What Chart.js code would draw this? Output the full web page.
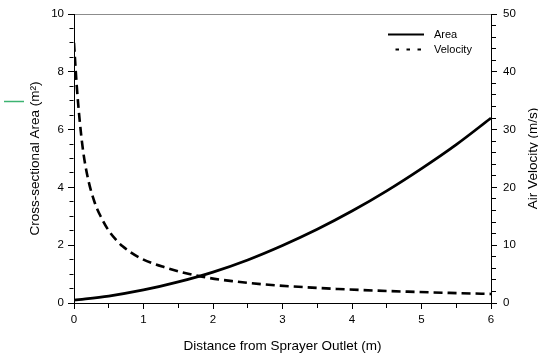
<!DOCTYPE html>
<html>
<head>
<meta charset="utf-8">
<script src="https://cdn.jsdelivr.net/npm/chart.js@4/dist/chart.umd.min.js"></script>
<style>
	html, body { margin: 0; padding: 0; background: #fff; }
	canvas { display: block; }
</style>
</head>
<body>
<canvas id="chart" width="538" height="356"></canvas>
<script>
'use strict';

// values
var areaX = [0, 0.5, 1, 1.5, 2, 2.5, 3, 3.5, 4, 4.5, 5, 5.5, 6];
var areaY = [0.1, 0.24, 0.45, 0.73, 1.07, 1.49, 1.99, 2.55, 3.18, 3.88, 4.65, 5.48, 6.4];

var velocityX = [0, 0.04, 0.08, 0.13, 0.2, 0.3, 0.4, 0.5, 0.6, 0.7, 0.95, 1.3, 1.8, 2.3, 2.8, 3.3, 3.8, 4.3, 4.8, 5.4, 6];
var velocityY = [45, 37.5, 31.8, 26.4, 21.6, 17.3, 14.6, 12.5, 11.0, 9.8, 7.8, 6.2, 4.65, 3.75, 3.15, 2.75, 2.42, 2.17, 1.96, 1.75, 1.57];

var seriesNames = ['Area', 'Velocity'];
var xTitle = 'Distance from Sprayer Outlet (m)';
var yTitle = 'Cross-sectional Area (m\u00B2)';
var y1Title = 'Air Velocity (m/s)';

var FONT = '"Liberation Sans", Arial, sans-serif';

function points(xs, ys) {
	var out = [];
	for (var i = 0; i < xs.length; i++) {
		out.push({x: xs[i], y: ys[i]});
	}
	return out;
}

function isMultiple(v, step) {
	return Math.abs(v / step - Math.round(v / step)) < 1e-6;
}

// minor ticks are drawn shorter by dashing the tick line
function minorDash(step) {
	return function(ctx) {
		return ctx.tick && isMultiple(ctx.tick.value, step) ? [] : [4, 100];
	};
}

function fixedSize(prop, size) {
	return function(scale) {
		scale[prop] = size;
	};
}

var overlay = {
	id: 'overlay',
	afterDraw: function(chart) {
		var ctx = chart.ctx;
		var area = chart.chartArea;
		var sets = chart.data.datasets;
		var x0 = area.right - 103;
		var x1 = area.right - 67;
		var rows = [area.top + 20.5, area.top + 35.5];
		var dashes = [[], [3.5, 7.5]];

		ctx.save();
		ctx.font = '11px ' + FONT;
		ctx.textBaseline = 'middle';
		ctx.textAlign = 'left';
		for (var i = 0; i < sets.length; i++) {
			ctx.beginPath();
			ctx.setLineDash(dashes[i]);
			ctx.lineDashOffset = i === 1 ? -7.5 : 0;
			ctx.strokeStyle = sets[i].borderColor;
			ctx.lineWidth = 2;
			ctx.moveTo(x0, rows[i]);
			ctx.lineTo(x1, rows[i]);
			ctx.stroke();
			ctx.fillStyle = '#000';
			ctx.fillText(sets[i].label, area.right - 57, rows[i]);
		}
		ctx.setLineDash([]);

		// right axis title reads bottom to top in the reference
		ctx.translate(chart.width - 5, (area.top + area.bottom) / 2);
		ctx.rotate(-Math.PI / 2);
		ctx.font = '13.5px ' + FONT;
		ctx.textAlign = 'center';
		ctx.fillText(y1Title, 0, 0);
		ctx.restore();

		// stray green mark left of the axis title
		ctx.save();
		ctx.strokeStyle = '#3cb371';
		ctx.lineWidth = 1.5;
		ctx.beginPath();
		ctx.moveTo(4, 101.5);
		ctx.lineTo(24, 101.5);
		ctx.stroke();
		ctx.restore();
	}
};

Chart.defaults.font.family = FONT;
Chart.defaults.color = '#000';

new Chart(document.getElementById('chart').getContext('2d'), {
	type: 'line',
	data: {
		datasets: [{
			label: seriesNames[0],
			data: points(areaX, areaY),
			yAxisID: 'y',
			borderColor: '#000',
			borderWidth: 2.8,
			pointRadius: 0,
			cubicInterpolationMode: 'monotone',
			fill: false
		}, {
			label: seriesNames[1],
			data: points(velocityX, velocityY),
			yAxisID: 'y1',
			borderColor: '#000',
			borderWidth: 2.6,
			borderDash: [9, 5],
			pointRadius: 0,
			cubicInterpolationMode: 'monotone',
			fill: false
		}]
	},
	options: {
		responsive: false,
		animation: false,
		devicePixelRatio: 1,
		layout: {padding: 0},
		plugins: {
			legend: {display: false},
			tooltip: {enabled: false}
		},
		scales: {
			x: {
				type: 'linear',
				position: 'bottom',
				min: 0,
				max: 6,
				afterFit: fixedSize('height', 53),
				border: {color: '#000', width: 1},
				grid: {
					drawOnChartArea: false,
					tickLength: 6,
					tickColor: '#000',
					tickBorderDash: minorDash(1)
				},
				ticks: {
					stepSize: 0.5,
					autoSkip: false,
					maxRotation: 0,
					padding: 4,
					font: {size: 11.5},
					callback: function(v) { return isMultiple(v, 1) ? String(v) : ''; }
				},
				title: {
					display: true,
					text: xTitle,
					font: {size: 13.5},
					padding: {top: 0, bottom: 2}
				}
			},
			x2: {
				type: 'linear',
				position: 'top',
				min: 0,
				max: 6,
				afterFit: fixedSize('height', 14),
				border: {color: '#8c8c8c', width: 1},
				grid: {drawOnChartArea: false, drawTicks: false},
				ticks: {display: false}
			},
			y: {
				type: 'linear',
				position: 'left',
				min: 0,
				max: 10,
				afterFit: fixedSize('width', 74),
				border: {color: '#000', width: 1},
				grid: {
					drawOnChartArea: false,
					tickLength: 6,
					tickColor: '#000',
					tickBorderDash: minorDash(2),
					tickBorderDashOffset: 102.5
				},
				ticks: {
					stepSize: 0.5,
					autoSkip: false,
					padding: 4,
					font: {size: 11.5},
					callback: function(v) { return isMultiple(v, 2) ? String(v) : ''; }
				},
				title: {
					display: true,
					text: yTitle,
					font: {size: 13.5},
					padding: {top: 27, bottom: 0}
				}
			},
			y1: {
				type: 'linear',
				position: 'right',
				min: 0,
				max: 50,
				afterFit: fixedSize('width', 47),
				border: {color: '#000', width: 1},
				grid: {
					drawOnChartArea: false,
					tickLength: 6,
					tickColor: '#000',
					tickBorderDash: minorDash(10)
				},
				ticks: {
					stepSize: 2,
					autoSkip: false,
					padding: 6,
					font: {size: 11.5},
					callback: function(v) { return isMultiple(v, 10) ? String(v) : ''; }
				}
			}
		}
	},
	plugins: [overlay]
});
</script>
</body>
</html>
